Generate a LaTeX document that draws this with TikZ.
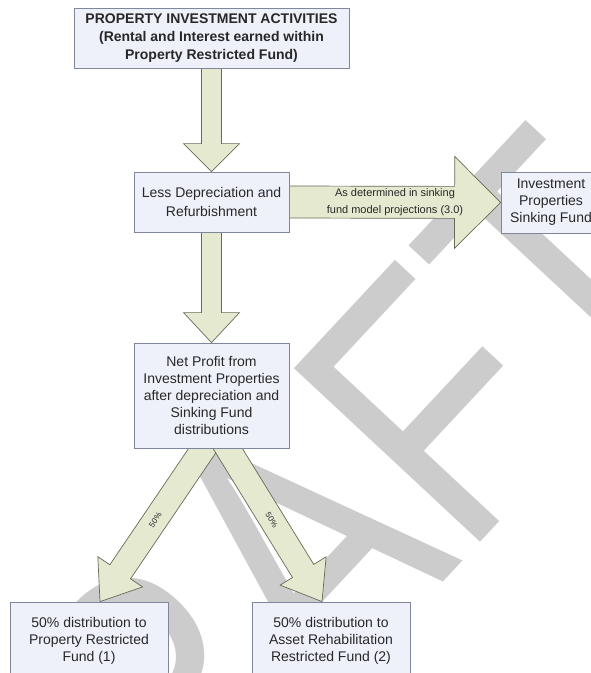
\documentclass[tikz,border=0pt]{standalone}
\usepackage{fontspec}
\setmainfont{Liberation Sans}
\newfontfamily\draftfont[FakeStretch=0.82]{Liberation Sans}
\usepackage{tikz}
\usetikzlibrary{positioning, calc}
\definecolor{boxfill}{RGB}{238, 240, 250}
\definecolor{boxedge}{RGB}{128, 134, 156}
\definecolor{arrowfill}{RGB}{228, 233, 208}
\definecolor{arrowedge}{RGB}{100, 108, 88}
\definecolor{textgray}{RGB}{40, 40, 40}
\definecolor{draftgray}{RGB}{204, 204, 204}
\pgfdeclarelayer{back}
\pgfsetlayers{back,main}

\tikzset{
  fundbox/.style={draw=boxedge, fill=boxfill, line width=0.8pt, inner sep=0pt,
    align=center, text=textgray, font=\fontsize{14}{17}\selectfont},
  blockarrow/.style={draw=arrowedge, fill=arrowfill, line width=0.7pt, line join=miter},
  arrowlabel/.style={text=textgray, align=center, inner sep=0pt},
  wmark/.style={text=draftgray, inner sep=0pt, font=\draftfont\fontsize{370}{370}\selectfont,
    rotate=47, anchor=base}
}

% fat arrow: [label style]{from}{to}{half shaft}{half head}{head length}{label}
\newcommand{\fatarrow}[7][]{%
  \coordinate (fa-base) at ($(#3)!#6!(#2)$);
  \draw[blockarrow] ($(#2)!#4!90:(#3)$) -- ($(fa-base)!#4!90:(#3)$)
    -- ($(fa-base)!#5!90:(#3)$) -- (#3) -- ($(fa-base)!#5!-90:(#3)$)
    -- ($(fa-base)!#4!-90:(#3)$) -- ($(#2)!#4!-90:(#3)$) -- cycle;
  \path (#2) -- node[arrowlabel, #1] {#7} (#3);
}

\begin{document}
\begin{tikzpicture}[x=1pt, y=-1pt]
    \clip (0,0) rectangle (591,673);
    % watermark
    \begin{pgfonlayer}{back}
      \node[wmark] (draft) at (372,659) {DRAFT};
    \end{pgfonlayer}
    % boxes
    \node[fundbox, font=\fontsize{14}{18}\selectfont\bfseries, minimum width=275pt, minimum height=60pt]
      (act) at (211.5,38) {PROPERTY INVESTMENT ACTIVITIES\\(Rental and Interest earned within\\Property Restricted Fund)};
    \node[fundbox, font=\fontsize{14}{19}\selectfont, minimum width=155pt, minimum height=60pt]
      (dep) at (211.5,202) {Less Depreciation and\\Refurbishment};
    \node[fundbox, minimum width=100pt, minimum height=61pt]
      (sink) at (551,202.5) {Investment\\Properties\\Sinking Fund};
    \node[fundbox, minimum width=155pt, minimum height=105pt]
      (net) at (211.5,395.5) {Net Profit from\\Investment Properties\\after depreciation and\\Sinking Fund\\distributions};
    \node[fundbox, minimum width=158pt, minimum height=78pt]
      (prf) at (89,641) {50\% distribution to\\Property Restricted\\Fund (1)};
    \node[fundbox, minimum width=158pt, minimum height=78pt]
      (arf) at (331,641) {50\% distribution to\\Asset Rehabilitation\\Restricted Fund (2)};
    % ends of the split arrows
    \coordinate (netL) at ([xshift=-1pt, yshift=10pt]net.south);
    \coordinate (netR) at ([xshift=10pt, yshift=10pt]net.south);
    \coordinate (prfT) at ([xshift=11pt]prf.north);
    \coordinate (arfT) at ([xshift=-9pt]arf.north);
    % arrows
    \begin{pgfonlayer}{back}
      \fatarrow{act.south}{dep.north}{10pt}{28pt}{28pt}{}
      \fatarrow{dep.south}{net.north}{10pt}{28pt}{30pt}{}
      \fatarrow[font=\fontsize{11}{17}\selectfont]{dep.east}{sink.west}{16pt}{46pt}{46pt}{As determined in sinking\\fund model projections (3.0)}
      \fatarrow[sloped, font=\fontsize{8}{8}\selectfont]{netL}{prfT}{12.5pt}{27pt}{36pt}{50\%}
      \fatarrow[sloped, font=\fontsize{8}{8}\selectfont]{netR}{arfT}{12.5pt}{27pt}{36pt}{50\%}
    \end{pgfonlayer}
\end{tikzpicture}
\end{document}
